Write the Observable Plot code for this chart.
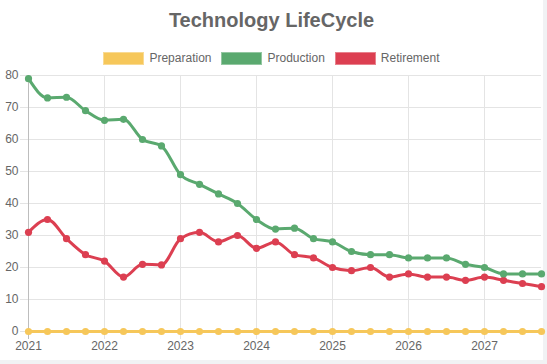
<!DOCTYPE html>
<html>
<head>
<meta charset="utf-8">
<script src="https://cdn.jsdelivr.net/npm/d3@7"></script>
<script src="https://cdn.jsdelivr.net/npm/@observablehq/plot@0.6"></script>
<style>
  html, body { margin: 0; padding: 0; background: #f1f2f4; }
  #card { position: relative; width: 543px; height: 360px; background: #fff; font-family: Arial, "Liberation Sans", Helvetica, sans-serif; }
  #title { position: absolute; top: 8px; left: 0; width: 543px; text-align: center; font-size: 20px; font-weight: bold; color: #666; line-height: 24px; }
  #legend { position: absolute; top: 51px; left: 0; width: 543px; display: flex; justify-content: center; font-size: 12px; color: #666; line-height: 14px; }
  .item { display: flex; align-items: center; margin: 0 5px; }
  .sw { width: 41px; height: 13px; margin-right: 5px; box-sizing: border-box; border: 1px solid rgba(255,255,255,0.35); }
  #plot { position: absolute; top: 66px; left: 0; }
</style>
</head>
<body>
<div id="card">
  <div id="title">Technology LifeCycle</div>
  <div id="legend"></div>
  <div id="plot"></div>
</div>
<script>
const periods = [2021, 2021.25, 2021.5, 2021.75, 2022, 2022.25, 2022.5, 2022.75,
  2023, 2023.25, 2023.5, 2023.75, 2024, 2024.25, 2024.5, 2024.75,
  2025, 2025.25, 2025.5, 2025.75, 2026, 2026.25, 2026.5, 2026.75,
  2027, 2027.25, 2027.5, 2027.75];
const preparation = [0,0,0,0,0,0,0,0,0,0,0,0,0,0,0,0,0,0,0,0,0,0,0,0,0,0,0,0];
const production = [79, 73, 73.2, 69, 66, 66.3, 60, 58, 49, 46, 43, 40, 35, 32, 32.3, 29,
  28, 25, 24, 24, 23, 23, 23, 21, 20, 18, 18, 18];
const retirement = [31, 35, 29, 24, 22, 17, 21, 20.8, 29, 31, 28, 30, 26, 28, 24, 23,
  20, 19, 20, 17, 18, 17, 17, 16, 17, 16, 15, 14];
const seriesNames = ["Preparation", "Production", "Retirement"];
const seriesColors = ["#f6c75a", "#5aa96f", "#dc3f51"];
const yTicks = [0, 10, 20, 30, 40, 50, 60, 70, 80];
const xTicks = [2021, 2022, 2023, 2024, 2025, 2026, 2027];

const seriesValues = [preparation, production, retirement];
const rows = [];
seriesNames.forEach((name, s) => {
  periods.forEach((p, i) => rows.push({series: name, period: p, value: seriesValues[s][i]}));
});

// legend
const legend = document.getElementById("legend");
seriesNames.forEach((name, i) => {
  const it = document.createElement("div");
  it.className = "item";
  const sw = document.createElement("div");
  sw.className = "sw";
  sw.style.background = seriesColors[i];
  const tx = document.createElement("span");
  tx.textContent = name;
  it.appendChild(sw); it.appendChild(tx);
  legend.appendChild(it);
});

const gridColor = "#e4e4e4";
const axisColor = "#bdbdbd";
const chart = Plot.plot({
  width: 543,
  height: 294,
  marginTop: 9,
  marginBottom: 29,
  marginLeft: 28,
  marginRight: 2,
  style: {fontFamily: "Arial, 'Liberation Sans', Helvetica, sans-serif", fontSize: "12px", color: "#666", background: "transparent", overflow: "visible"},
  x: {domain: [2021, 2027.75]},
  y: {domain: [0, 80]},
  color: {domain: seriesNames, range: seriesColors},
  marks: [
    Plot.gridY(yTicks, {stroke: gridColor, strokeOpacity: 1}),
    Plot.gridX(xTicks, {stroke: gridColor, strokeOpacity: 1}),
    Plot.axisY(yTicks, {tickSize: 8, tickPadding: 2, stroke: gridColor, strokeOpacity: 1, fill: "#666", label: null, tickFormat: d => String(d)}),
    Plot.axisX(xTicks, {tickSize: 8, tickPadding: 2, stroke: gridColor, strokeOpacity: 1, fill: "#666", label: null, tickFormat: d => String(d)}),
    Plot.axisX([xTicks[0]], {tickSize: 8, tickPadding: 2, stroke: axisColor, strokeOpacity: 1, fill: "#666", label: null, tickFormat: () => ""}),
    Plot.ruleX([xTicks[0]], {stroke: axisColor}),
    Plot.line(rows.filter(d => d.series === "Retirement"), {x: "period", y: "value", stroke: "series", strokeWidth: 3, curve: "monotone-x"}),
    Plot.dot(rows.filter(d => d.series === "Retirement"), {x: "period", y: "value", fill: "series", r: 3.6}),
    Plot.line(rows.filter(d => d.series === "Production"), {x: "period", y: "value", stroke: "series", strokeWidth: 3, curve: "monotone-x"}),
    Plot.dot(rows.filter(d => d.series === "Production"), {x: "period", y: "value", fill: "series", r: 3.6}),
    Plot.line(rows.filter(d => d.series === "Preparation"), {x: "period", y: "value", stroke: "series", strokeWidth: 3, curve: "monotone-x"}),
    Plot.dot(rows.filter(d => d.series === "Preparation"), {x: "period", y: "value", fill: "series", r: 3.6})
  ]
});
document.getElementById("plot").appendChild(chart);
</script>
</body>
</html>
